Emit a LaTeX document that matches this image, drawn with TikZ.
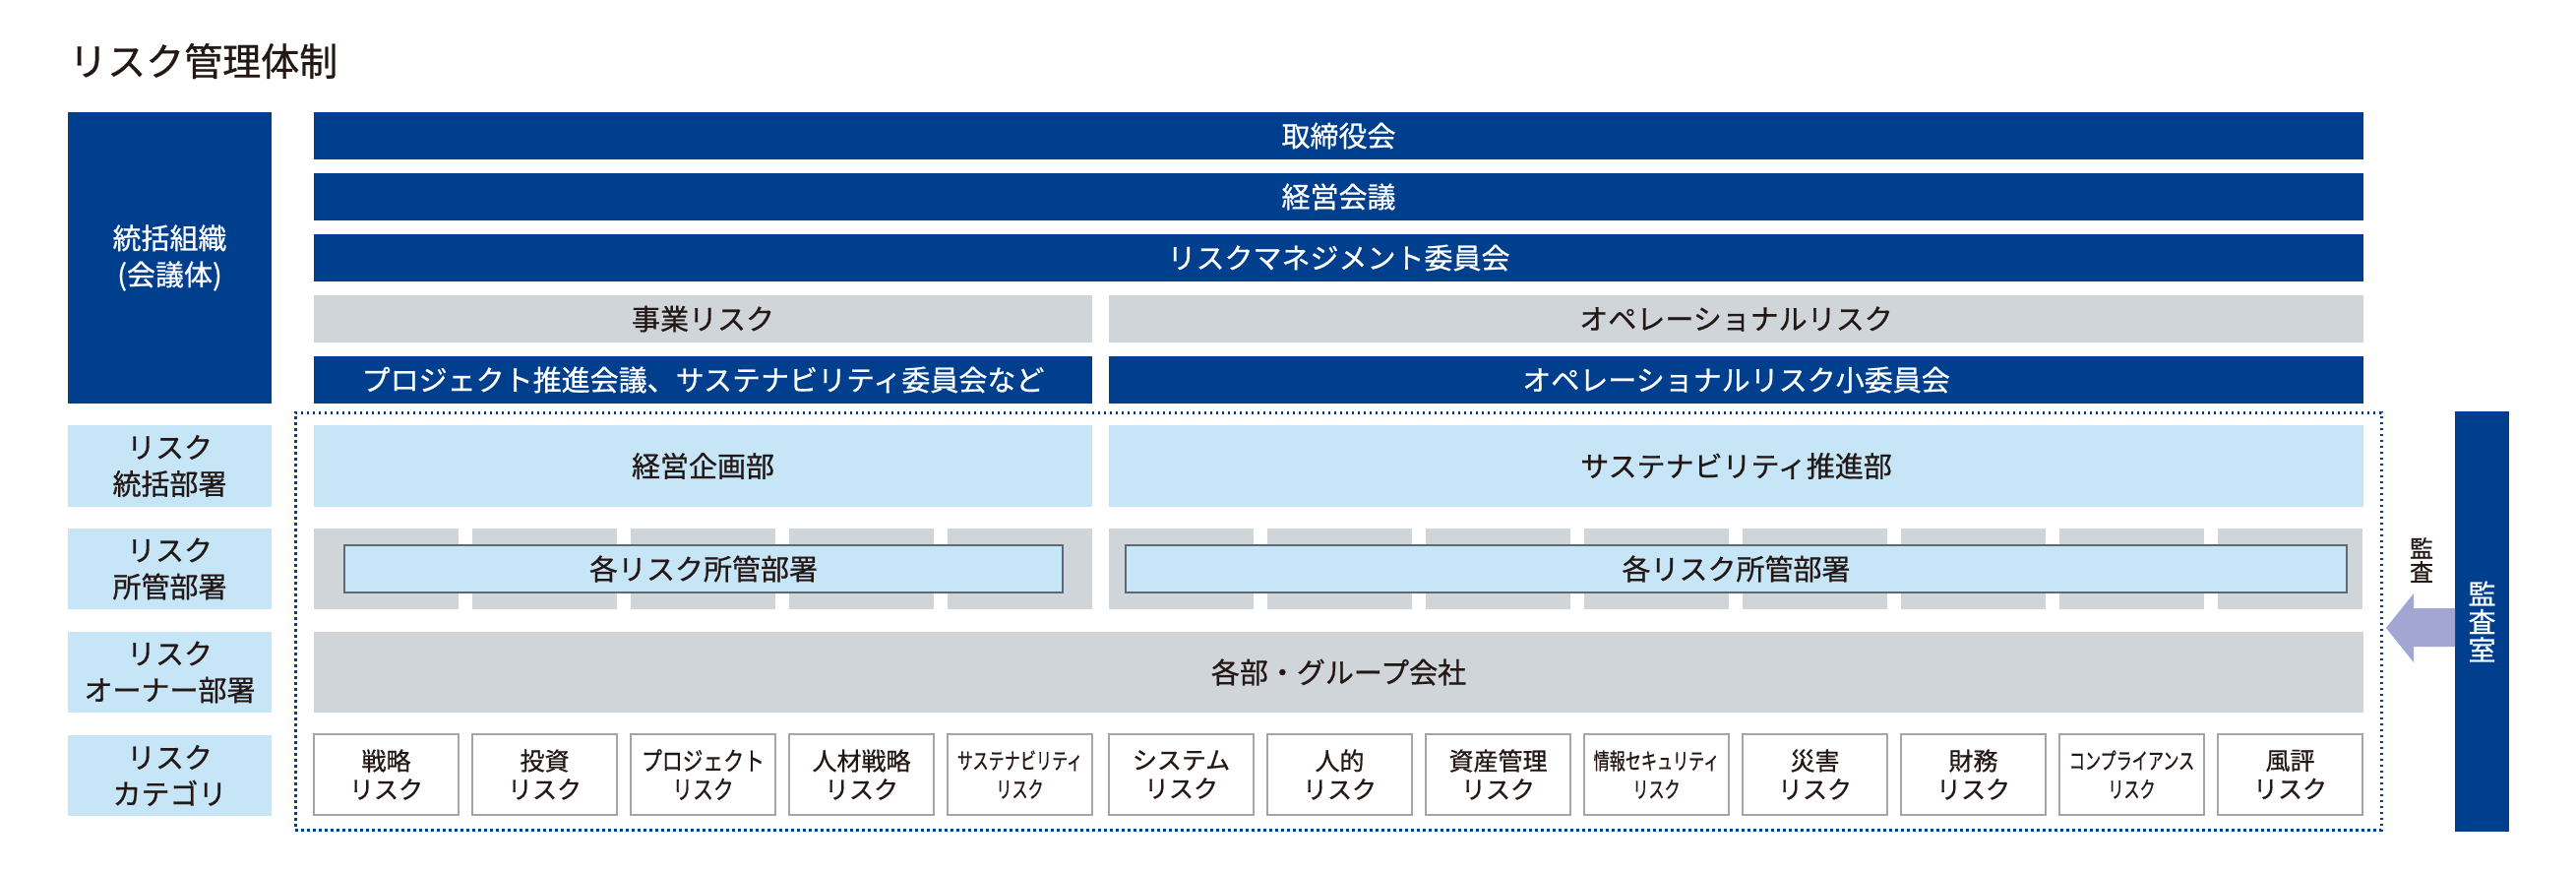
\documentclass[tikz,border=0pt]{standalone}
\usepackage{fontspec}
\usepackage{graphicx}
\setmainfont{Noto Sans CJK JP}[FakeBold=0.7]
\definecolor{navy}{HTML}{003F8E}
\definecolor{greyc}{HTML}{D0D5DA}
\definecolor{lightb}{HTML}{C6E5F7}
\definecolor{ink}{HTML}{231815}
\definecolor{catline}{HTML}{A5A5A5}
\definecolor{subline}{HTML}{5E6976}
\definecolor{arrowc}{HTML}{A3A6D2}
\newcommand\myfs[2]{\fontsize{#1}{#2}\selectfont}
\begin{document}
\begin{tikzpicture}[x=1pt,y=-1pt,
  blk/.style={rectangle, inner sep=0pt, outer sep=0pt, anchor=north west, align=center},
  navybox/.style={blk, fill=navy, text=white, font=\myfs{29}{37}},
  greybox/.style={blk, fill=greyc, text=ink, font=\myfs{29}{37}},
  bluebox/.style={blk, fill=lightb, text=ink, font=\myfs{29}{37}},
  catbox/.style={blk, fill=white, draw=catline, line width=1.5pt, text=ink, minimum width=147, minimum height=82},
  subbox/.style={blk, fill=lightb, draw=subline, line width=2pt, text=ink, font=\myfs{29}{37}},
  dotframe/.style={blk, draw=navy, line width=3pt, dash pattern=on 2.5pt off 3.5pt},
]
\useasboundingbox (0,0) rectangle (2618,886);
\fill[white] (0,0) rectangle (2618,886);

% title
\node[anchor=west, inner sep=0pt, text=ink, font=\myfs{39}{41}] (title) at (70,62) {リスク管理体制};

% left labels
\node[navybox, minimum width=207, minimum height=296] (org) at (69,114) {統括組織\\(会議体)};
\node[bluebox, minimum width=207, minimum height=83] (l1) at (69,432) {リスク\\統括部署};
\node[bluebox, minimum width=207, minimum height=82] (l2) at (69,537) {リスク\\所管部署};
\node[bluebox, minimum width=207, minimum height=82] (l3) at (69,642) {リスク\\オーナー部署};
\node[bluebox, minimum width=207, minimum height=82] (l4) at (69,747) {リスク\\カテゴリ};

% top bars
\node[navybox, minimum width=2083, minimum height=48] (board) at (319,114) {取締役会};
\node[navybox, minimum width=2083, minimum height=48] (mgmt) at (319,176) {経営会議};
\node[navybox, minimum width=2083, minimum height=48] (rmc) at (319,238) {リスクマネジメント委員会};
\node[greybox, minimum width=791, minimum height=48] (bizrisk) at (319,300) {事業リスク};
\node[greybox, minimum width=1275, minimum height=48] (oprisk) at (1127,300) {オペレーショナルリスク};
\node[navybox, minimum width=791, minimum height=48] (proj) at (319,362) {プロジェクト推進会議、サステナビリティ委員会など};
\node[navybox, minimum width=1275, minimum height=48] (opsub) at (1127,362) {オペレーショナルリスク小委員会};

% dotted frame
\node[dotframe, minimum width=2120, minimum height=424] (frame) at (300,419) {};

% risk control departments
\node[bluebox, minimum width=791, minimum height=83] (keiei) at (319,432) {経営企画部};
\node[bluebox, minimum width=1275, minimum height=83] (sust) at (1127,432) {サステナビリティ推進部};

% grey blocks and categories
\foreach \n/\x/\a/\b/\f/\k in {
  1/319/戦略/リスク/25/1,
  2/480/投資/リスク/25/1,
  3/641/プロジェクト/リスク/26/0.8,
  4/802/人材戦略/リスク/25/1,
  5/963/サステナビリティ/リスク/23/0.7,
  6/1127/システム/リスク/25/1,
  7/1288/人的/リスク/25/1,
  8/1449/資産管理/リスク/25/1,
  9/1610/情報セキュリティ/リスク/23/0.7,
  10/1771/災害/リスク/25/1,
  11/1932/財務/リスク/25/1,
  12/2093/コンプライアンス/リスク/23/0.7,
  13/2254/風評/リスク/25/1}{
  \node[blk, fill=greyc, minimum width=147, minimum height=82] (blk\n) at (\x,537) {};
  \node[catbox, font=\myfs{\f}{29}] (cat\n) at (\x,746) {\scalebox{\k}[1]{\a}\\\scalebox{\k}[1]{\b}};
}

\node[subbox, minimum width=730, minimum height=48] (subL) at (350,554) {各リスク所管部署};
\node[subbox, minimum width=1241, minimum height=48] (subR) at (1144,554) {各リスク所管部署};

% owners
\node[greybox, minimum width=2083, minimum height=82] (owner) at (319,642) {各部・グループ会社};

% audit
\node[navybox, minimum width=55, minimum height=427, font=\myfs{28}{28.5}] (audit) at (2495,418) {監\\査\\室};
\coordinate (arrtip) at (2425,638);
\fill[arrowc] (audit.west |- 0,618) -- (2453,618) -- (2453,603) -- (arrtip) -- (2453,673) -- (2453,657) -- (audit.west |- 0,657) -- cycle;
\node[inner sep=0pt, align=center, text=ink, font=\myfs{24}{24}] (auditlbl) at (2461,569) {監\\査};
\end{tikzpicture}
\end{document}
